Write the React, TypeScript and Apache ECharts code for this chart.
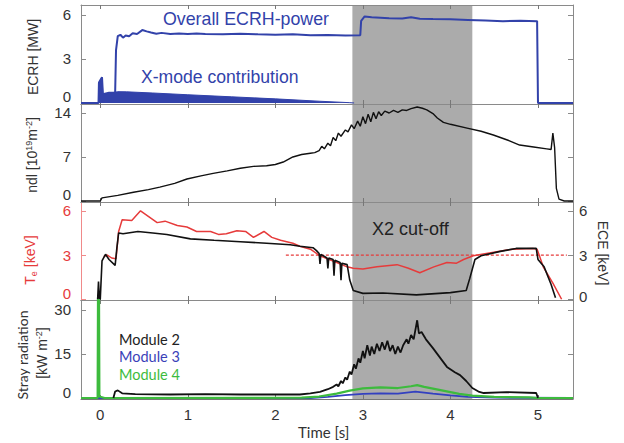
import React, { useEffect, useRef } from "react";
import * as echarts from "echarts";

// ---------- tick values ----------
const timeTicks = [0, 1, 2, 3, 4, 5];
const ecrhTicks = [0, 3, 6];
const ndlTicks = [0, 7, 14];
const teTicks = [0, 3, 6];
const eceTicks = [0, 3, 6];
const strayTicks = [0, 15, 30];

// ---------- shaded X2 cut-off window [s] ----------
const cutoffWindow = [2.88, 4.25];

// ---------- ECRH power [MW] ----------
const ecrhOverall: [number, number][] = [
  [-0.22, 0], [-0.02, 0], [-0.015, 1.4], [0.02, 1.75], [0.03, 0.6], [0.1, 0.7], [0.17, 0.7],
  [0.18, 3.6], [0.2, 4.55], [0.23, 4.65], [0.26, 4.45], [0.29, 4.6], [0.33, 4.55], [0.37, 4.75],
  [0.42, 4.7], [0.48, 4.97], [0.53, 4.88], [0.58, 4.8], [0.64, 4.72], [0.7, 4.78], [0.8, 4.7],
  [0.9, 4.74], [1.0, 4.7], [1.1, 4.73], [1.2, 4.7], [1.4, 4.68], [1.6, 4.72], [1.8, 4.68],
  [2.0, 4.66], [2.2, 4.68], [2.4, 4.62], [2.6, 4.64], [2.8, 4.6], [2.97, 4.62], [2.98, 5.6],
  [3.02, 5.9], [3.1, 5.85], [3.3, 5.78], [3.45, 5.76], [3.55, 5.84], [3.65, 5.74], [3.8, 5.72],
  [4.0, 5.7], [4.2, 5.66], [4.4, 5.62], [4.6, 5.58], [4.8, 5.6], [4.99, 5.58], [5.0, 0], [5.4, 0],
];
const xModeContribution: [number, number][] = [
  [-0.02, 0], [-0.015, 1.4], [0.02, 1.75], [0.03, 0.6], [0.1, 0.66], [0.2, 0.77], [0.3, 0.76],
  [0.6, 0.68], [1.0, 0.56], [1.5, 0.42], [2.0, 0.28], [2.5, 0.12], [2.85, 0.02], [2.9, 0],
];

// ---------- line-integrated density [1e19 m^-2] ----------
const ndl: [number, number][] = [
  [-0.22, 0], [0, 0], [0.02, 0.5], [0.2, 0.9], [0.38, 1.4], [0.55, 1.8], [0.68, 2.2], [0.85, 2.8],
  [0.99, 3.5], [1.15, 4.0], [1.29, 4.4], [1.45, 4.8], [1.6, 5.2], [1.75, 5.5], [1.9, 5.6], [2.0, 5.8],
  [2.09, 6.2], [2.2, 7.0], [2.3, 7.4], [2.4, 7.6], [2.45, 7.7], [2.5, 8.0], [2.53, 8.7], [2.56, 8.3],
  [2.6, 9.2], [2.63, 8.8], [2.66, 10.1], [2.69, 9.6], [2.72, 10.8], [2.75, 10.3], [2.8, 11.3],
  [2.83, 11.0], [2.87, 12.1], [2.9, 11.5], [2.94, 12.7], [2.97, 11.9], [3.0, 13.4], [3.03, 12.3],
  [3.06, 13.8], [3.09, 12.6], [3.12, 14.1], [3.15, 13.1], [3.18, 14.2], [3.21, 13.6], [3.25, 14.3],
  [3.3, 14.0], [3.35, 14.4], [3.4, 14.1], [3.45, 14.5], [3.5, 14.4], [3.55, 14.7], [3.62, 14.95],
  [3.68, 14.75], [3.73, 14.5], [3.8, 13.9], [3.85, 13.2], [3.92, 12.5], [4.0, 12.2], [4.19, 11.6],
  [4.35, 11.1], [4.49, 10.5], [4.65, 9.7], [4.79, 8.9], [4.95, 8.6], [5.1, 8.3], [5.15, 8.2],
  [5.17, 10.8], [5.19, 8.5], [5.21, 2.0], [5.24, 0.3], [5.3, 0], [5.4, 0],
];

// ---------- electron temperature T_e [keV] (red) ----------
const electronTemp: [number, number][] = [
  [0.04, 2.9], [0.08, 3.0], [0.13, 2.8], [0.18, 2.75], [0.21, 4.6], [0.25, 5.4], [0.36, 5.35],
  [0.46, 6.0], [0.65, 5.2], [0.74, 5.3], [0.88, 5.0], [0.99, 4.9], [1.1, 4.6], [1.26, 4.6],
  [1.35, 4.4], [1.44, 4.45], [1.56, 4.65], [1.66, 4.6], [1.75, 4.2], [1.87, 4.6], [1.96, 4.2],
  [2.06, 4.0], [2.2, 3.8], [2.28, 3.6], [2.4, 3.4], [2.51, 2.95], [2.66, 2.6], [2.82, 2.2],
  [2.89, 2.1], [3.0, 2.05], [3.16, 2.2], [3.39, 2.35], [3.52, 2.1], [3.65, 1.8], [3.81, 2.2],
  [3.96, 2.5], [4.07, 2.45], [4.15, 2.7], [4.26, 2.95], [4.41, 3.1], [4.71, 3.4], [4.94, 3.45],
  [4.99, 3.4], [5.06, 2.2], [5.17, 1.1], [5.27, 0],
];

// ---------- ECE [keV] (black, right axis) ----------
const ece: [number, number][] = [
  [-0.03, 0], [-0.02, 1.2], [-0.01, 0], [0.0, 0], [0.02, 2.6], [0.06, 3.05], [0.1, 2.7],
  [0.17, 2.3], [0.19, 3.5], [0.21, 4.5], [0.26, 4.45], [0.43, 4.6], [0.6, 4.5], [0.76, 4.4],
  [1.03, 4.1], [1.3, 4.0], [1.6, 3.9], [1.9, 3.8], [2.17, 3.7], [2.28, 3.6], [2.43, 3.5],
  [2.47, 3.3], [2.5, 3.1], [2.51, 2.4], [2.52, 3.05], [2.59, 2.8], [2.6, 2.1], [2.61, 2.8],
  [2.66, 2.7], [2.67, 1.6], [2.68, 2.65], [2.74, 2.5], [2.75, 1.3], [2.76, 2.45], [2.82, 2.35],
  [2.85, 1.3], [2.89, 0.6], [3.0, 0.4], [3.23, 0.42], [3.61, 0.3], [4.0, 0.45], [4.18, 0.6],
  [4.22, 1.4], [4.28, 2.7], [4.35, 2.95], [4.57, 3.25], [4.75, 3.45], [4.98, 3.45], [5.0, 2.7],
  [5.07, 2.2], [5.15, 1.0], [5.2, 0.1],
];
const eceReference: [number, number][] = [[2.12, 3], [5.33, 3]];

// ---------- stray radiation [kW m^-2] ----------
const module2: [number, number][] = [
  [0.15, 0], [0.17, 2.2], [0.2, 2.6], [0.25, 1.6], [0.4, 1.3], [0.8, 1.2], [1.2, 1.3],
  [1.6, 1.2], [2.0, 1.2], [2.28, 1.2], [2.4, 1.6], [2.51, 2.1], [2.6, 3.0], [2.66, 3.8], [2.7, 4.6],
  [2.72, 4.0], [2.75, 5.8], [2.77, 5.0], [2.8, 7.0], [2.82, 6.2], [2.85, 9.0], [2.87, 8.0],
  [2.9, 11.5], [2.92, 10.0], [2.95, 13.5], [2.97, 12.0], [3.0, 16.0], [3.02, 13.5], [3.05, 18.0],
  [3.08, 14.5], [3.1, 17.5], [3.13, 15.0], [3.16, 18.5], [3.19, 16.0], [3.22, 19.0], [3.25, 16.5],
  [3.28, 19.5], [3.31, 16.0], [3.34, 18.0], [3.37, 15.0], [3.4, 17.5], [3.43, 15.5], [3.46, 18.0],
  [3.5, 20.0], [3.52, 18.5], [3.55, 21.5], [3.58, 20.0], [3.62, 26.5], [3.64, 22.0], [3.67, 22.5],
  [3.72, 20.0], [3.8, 17.0], [3.9, 13.0], [3.96, 10.6], [4.05, 8.8], [4.11, 7.8], [4.18, 5.8],
  [4.25, 3.4], [4.32, 2.2], [4.38, 1.7], [4.64, 2.0], [4.98, 1.7], [5.0, 0],
];
const module3: [number, number][] = [
  [-0.22, 0], [2.4, 0], [2.6, 0.4], [2.8, 1.0], [3.0, 1.4], [3.2, 1.6], [3.4, 1.5], [3.6, 2.2],
  [3.8, 1.5], [4.0, 0.9], [4.2, 0.4], [4.5, 0.1], [5.4, 0],
];
const module4: [number, number][] = [
  [-0.22, 0], [-0.03, 0], [-0.025, 40], [-0.015, 40], [-0.01, 0.5], [0.05, 0], [2.3, 0.1], [2.5, 0.5],
  [2.7, 1.5], [2.85, 2.5], [3.0, 3.3], [3.2, 3.6], [3.4, 3.4], [3.55, 4.0], [3.62, 4.4], [3.7, 3.8],
  [3.9, 2.6], [4.1, 1.4], [4.25, 0.8], [4.5, 0.4], [4.9, 0.2], [5.0, 0], [5.4, 0],
];

const X_MIN = -0.22;
const X_MAX = 5.4;
const BLUE = "#3242aa";
const RED = "#e63b3b";
const GREEN = "#3dbb3d";
const AXIS = "#8a8a8a";
const FONT = "Liberation Sans";

export default function App() {
  const ref = useRef<HTMLDivElement>(null);

  useEffect(() => {
    if (!ref.current) return;
    const chart = echarts.init(ref.current, undefined, { renderer: "svg" });

    const panels = [
      { top: 5, height: 99, min: -0.07, max: 6.68, ticks: ecrhTicks, color: "#333", axisColor: AXIS },
      { top: 104, height: 98, min: -0.16, max: 15.43, ticks: ndlTicks, color: "#333", axisColor: AXIS },
      { top: 202, height: 98, min: -0.05, max: 6.6, ticks: teTicks, color: RED, axisColor: "#f08a8a" },
      { top: 300, height: 99, min: -0.34, max: 33.4, ticks: strayTicks, color: "#333", axisColor: AXIS },
    ];

    const grid = panels.map((p) => ({ left: 81, right: 51, top: p.top, height: p.height }));

    const labelRich = (color: string, lift: number) => ({
      lo: { fontSize: 15, color, fontFamily: FONT, padding: [0, 0, lift, 0] },
      n: { fontSize: 15, color, fontFamily: FONT },
    });
    const zeroLifted = (v: number) => (v === 0 ? "{lo|0}" : `{n|${v}}`);

    const xAxis: any[] = [];
    const yAxis: any[] = [];
    panels.forEach((p, i) => {
      ["bottom", "top"].forEach((pos) => {
        xAxis.push({
          gridIndex: i,
          type: "value",
          position: pos,
          min: X_MIN,
          max: X_MAX,
          z: 5,
          axisLine: { show: true, onZero: false, lineStyle: { color: pos === "bottom" ? "#777" : AXIS, width: 1 } },
          axisTick: { show: true, inside: true, length: 4, customValues: timeTicks, lineStyle: { color: "#777" } },
          axisLabel: {
            show: i === 3 && pos === "bottom",
            customValues: timeTicks,
            margin: 8,
            fontSize: 15,
            color: "#333",
            fontFamily: FONT,
          },
          splitLine: { show: false },
        });
      });
      yAxis.push({
        gridIndex: i,
        type: "value",
        position: "left",
        min: p.min,
        max: p.max,
        z: 5,
        axisLine: { show: true, onZero: false, lineStyle: { color: p.axisColor } },
        axisTick: { show: true, inside: true, length: 5, customValues: p.ticks, lineStyle: { color: p.axisColor } },
        axisLabel: {
          customValues: p.ticks,
          margin: 10,
          fontSize: 15,
          color: p.color,
          fontFamily: FONT,
          formatter: zeroLifted,
          rich: labelRich(p.color, 12),
        },
        splitLine: { show: false },
      });
      yAxis.push({
        gridIndex: i,
        type: "value",
        position: "right",
        min: p.min,
        max: p.max,
        z: 5,
        axisLine: { show: true, onZero: false, lineStyle: { color: AXIS } },
        axisTick: { show: true, inside: true, length: 5, customValues: i === 2 ? eceTicks : p.ticks, lineStyle: { color: AXIS } },
        axisLabel: {
          show: i === 2,
          customValues: eceTicks,
          margin: 6,
          fontSize: 15,
          color: "#333",
          fontFamily: FONT,
          formatter: zeroLifted,
          rich: labelRich("#333", 6),
        },
        splitLine: { show: false },
      });
    });

    const line = (data: any, xi: number, yi: number, color: string, width: number, extra: any = {}) => ({
      type: "line",
      data,
      xAxisIndex: xi,
      yAxisIndex: yi,
      showSymbol: false,
      symbol: "none",
      z: 6,
      lineStyle: { color, width },
      silent: true,
      ...extra,
    });

    const series: any[] = [];
    panels.forEach((_, i) => {
      series.push({
        type: "line",
        data: [],
        xAxisIndex: 2 * i,
        yAxisIndex: 2 * i,
        z: 1,
        silent: true,
        markArea: {
          silent: true,
          itemStyle: { color: "#ababab", opacity: 1 },
          data: [[{ xAxis: cutoffWindow[0] }, { xAxis: cutoffWindow[1] }]],
        },
      });
    });

    series.push(
      line(xModeContribution, 0, 0, BLUE, 1, { areaStyle: { color: BLUE, opacity: 1 } }),
      line(ecrhOverall, 0, 0, BLUE, 2),
      line(ndl, 2, 2, "#111", 1.4),
      line(eceReference, 4, 4, RED, 1.2, { lineStyle: { color: RED, width: 1.2, type: [3, 2] } }),
      line(electronTemp, 4, 4, RED, 1.5),
      line(ece, 4, 5, "#111", 1.6),
      line(module3, 6, 6, "#3340c0", 1.8),
      line(module4, 6, 6, GREEN, 2.2),
      line(module2, 6, 6, "#111", 1.8)
    );

    const vText = (x: number, y: number, text: string, rich: any, color: string, rot = Math.PI / 2, size = 14, family = FONT) => ({
      type: "text",
      x,
      y,
      rotation: rot,
      z: 10,
      style: {
        text,
        fill: color,
        fontSize: size,
        fontFamily: family,
        align: "center",
        verticalAlign: "middle",
        rich,
      },
    });

    const supRich = (color: string) => ({
      n: { fontSize: 14, fill: color, fontFamily: FONT, lineHeight: 16 },
      sup: { fontSize: 9, fill: color, fontFamily: FONT, verticalAlign: "top", lineHeight: 16 },
      sub: { fontSize: 9, fill: color, fontFamily: FONT, verticalAlign: "bottom", lineHeight: 16 },
    });

    const graphic: any[] = [
      vText(33, 57, "ECRH [MW]", undefined, "#333"),
      vText(32, 155, "{n|ndl [10}{sup|19}{n|m}{sup|-2}{n|]}", supRich("#333"), "#333"),
      vText(30, 260, "{n|T}{sub|e}{n| [keV]}", supRich(RED), RED),
      vText(22, 355, "Stray radiation", undefined, "#333", Math.PI / 2, 14, "Lato"),
      vText(42, 353, "{n|[kW m}{sup|-2}{n|]}", supRich("#333"), "#333"),
      vText(603, 253, "ECE [keV]", undefined, "#333", -Math.PI / 2),
      {
        type: "text", left: 163, top: 10, z: 10,
        style: { text: "Overall ECRH-power", fill: BLUE, fontSize: 17.8, fontFamily: FONT },
      },
      {
        type: "text", left: 141, top: 68, z: 10,
        style: { text: "X-mode contribution", fill: BLUE, fontSize: 17.6, fontFamily: FONT },
      },
      {
        type: "text", left: 372, top: 220, z: 10,
        style: { text: "X2 cut-off", fill: "#222", fontSize: 18, fontFamily: FONT },
      },
      {
        type: "text", left: 119, top: 332, z: 10,
        style: { text: "Module 2", fill: "#222", fontSize: 14.5, fontFamily: "Lato" },
      },
      {
        type: "text", left: 119, top: 349, z: 10,
        style: { text: "Module 3", fill: "#3a3fb8", fontSize: 14.5, fontFamily: "Lato" },
      },
      {
        type: "text", left: 119, top: 367, z: 10,
        style: { text: "Module 4", fill: GREEN, fontSize: 14.5, fontFamily: "Lato" },
      },
      {
        type: "text", left: 298, top: 424, z: 10,
        style: { text: "Time [s]", fill: "#333", fontSize: 15, fontFamily: "Lato" },
      },
    ];

    chart.setOption({
      animation: false,
      backgroundColor: "#fff",
      grid,
      xAxis,
      yAxis,
      series,
      graphic,
    });

    return () => chart.dispose();
  }, []);

  return (
    <div
      ref={ref}
      style={{ position: "fixed", left: 0, top: 0, width: 624, height: 443, background: "#fff" }}
    />
  );
}
